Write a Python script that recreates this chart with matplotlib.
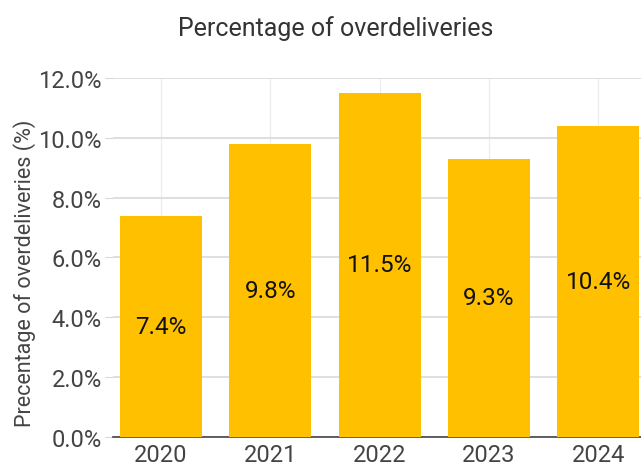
import matplotlib.pyplot as plt
from matplotlib.ticker import FuncFormatter

years = ["2020", "2021", "2022", "2023", "2024"]
overdelivery_pct = [7.4, 9.8, 11.5, 9.3, 10.4]

plt.rcParams['font.family'] = ['Roboto', 'DejaVu Sans']

fig = plt.figure(figsize=(6.41, 4.64), dpi=100)
ax = fig.add_axes([0.176, 0.056, 0.824, 0.774])

x = list(range(len(years)))
ax.bar(x, overdelivery_pct, width=0.75, color="#FFC000", zorder=3)

for xi, v in zip(x, overdelivery_pct):
    ax.text(xi, v / 2, f"{v:.1f}%", ha="center", va="center",
            fontsize=17.5, color="#111111", zorder=4)

ax.set_xlim(-0.44, 4.39)
ax.set_ylim(0, 12.0)
ax.set_yticks([0, 2, 4, 6, 8, 10, 12])
ax.yaxis.set_major_formatter(FuncFormatter(lambda v, p: f"{v:.1f}%"))
ax.set_xticks(x)
ax.set_xticklabels(years)

ax.grid(axis="y", color="#d9d9d9", linewidth=1.2, zorder=0)
ax.grid(axis="x", color="#ebebeb", linewidth=0.8, zorder=0)

for s in ["top", "right", "left"]:
    ax.spines[s].set_visible(False)
ax.spines["bottom"].set_color("#444444")
ax.spines["bottom"].set_linewidth(1.2)

ax.tick_params(axis="y", length=6, color="#d9d9d9", labelsize=17, labelcolor="#444444", pad=2)
ax.tick_params(axis="x", length=0, labelsize=17, labelcolor="#444444", pad=4)

ax.set_ylabel("Precentage of overdeliveries (%)", fontsize=15.5, color="#444444", labelpad=0)
ax.yaxis.set_label_coords(-0.145, 0.46)
fig.suptitle("Percentage of overdeliveries", fontsize=18, color="#333333", x=0.524, y=0.965)

fig.savefig("out.png", dpi=100)
